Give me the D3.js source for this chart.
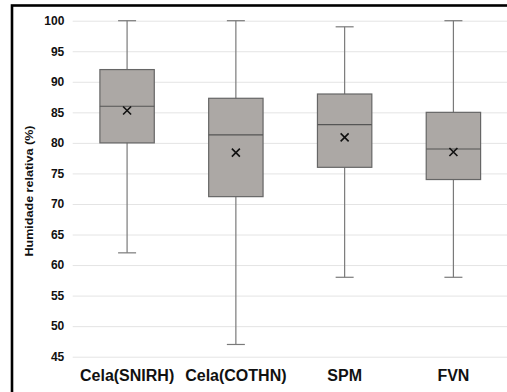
<!DOCTYPE html>
<html>
<head>
<meta charset="utf-8">
<script src="https://cdn.jsdelivr.net/npm/d3@7"></script>
<style>
  body { margin: 0; background: #fff; }
  svg { display: block; font-family: "Liberation Sans", Arial, sans-serif; }
</style>
</head>
<body>
<div id="chart"></div>
<script>
// data
var categories = ["Cela(SNIRH)", "Cela(COTHN)", "SPM", "FVN"];
var minVals    = [62, 47, 58, 58];
var q1Vals     = [80, 71.2, 76, 74];
var medianVals = [86, 81.3, 83, 79];
var q3Vals     = [92, 87.3, 88, 85];
var maxVals    = [100, 100, 99, 100];
var meanVals   = [85.3, 78.4, 80.9, 78.5];
var yTicks     = [45, 50, 55, 60, 65, 70, 75, 80, 85, 90, 95, 100];

var svgWidth = 507, svgHeight = 392;

var margin = { top: 20.7, left: 72.7, right: -0.8, bottom: 35.3 };
var chartWidth = svgWidth - margin.left - margin.right;
var chartHeight = svgHeight - margin.top - margin.bottom;

var svg = d3.select("#chart")
  .append("svg")
  .attr("width", svgWidth)
  .attr("height", svgHeight);

// outer frame (cropped at right/bottom)
svg.append("rect")
  .attr("x", 12).attr("y", 5.5)
  .attr("width", svgWidth + 10).attr("height", svgHeight + 10)
  .attr("fill", "none")
  .attr("stroke", "#000")
  .attr("stroke-width", 2.6);

var chartGroup = svg.append("g")
  .attr("transform", `translate(${margin.left}, ${margin.top})`);

var xScale = d3.scaleBand()
  .domain(categories)
  .range([0, chartWidth])
  .paddingInner(0)
  .paddingOuter(0);

var yScale = d3.scaleLinear()
  .domain([45, 100])
  .range([chartHeight, 0]);

// gridlines
var grid = chartGroup.append("g")
  .call(d3.axisLeft(yScale).tickValues(yTicks).tickSize(-chartWidth - 5).tickFormat(""));
grid.select(".domain").remove();
grid.selectAll("line").attr("stroke", "#e4e4e4").attr("stroke-width", 1);

// y axis labels
var yAxis = chartGroup.append("g")
  .call(d3.axisLeft(yScale).tickValues(yTicks).tickSize(0).tickPadding(8.4));
yAxis.select(".domain").remove();
yAxis.selectAll("text")
  .attr("font-size", "12px")
  .attr("font-weight", "bold")
  .attr("fill", "#111")
  .style("font-family", "'Liberation Sans', Arial, sans-serif");

// x axis labels
var xAxis = chartGroup.append("g")
  .attr("transform", `translate(0, ${chartHeight})`)
  .call(d3.axisBottom(xScale).tickSize(0));
xAxis.select(".domain").remove();
xAxis.selectAll("text")
  .attr("dy", null)
  .attr("y", 24)
  .attr("font-size", "16px")
  .attr("font-weight", "bold")
  .attr("fill", "#111")
  .style("font-family", "'Liberation Sans', Arial, sans-serif");

// y axis title
svg.append("text")
  .attr("transform", "translate(33, 191) rotate(-90)")
  .attr("text-anchor", "middle")
  .attr("font-size", "11.5px")
  .attr("font-weight", "bold")
  .attr("fill", "#111")
  .attr("textLength", 131)
  .attr("lengthAdjust", "spacingAndGlyphs")
  .text("Humidade relativa (%)");

var boxW = xScale.bandwidth() * 0.5;
var capW = 18;

var boxes = chartGroup.selectAll(".box")
  .data(categories)
  .enter()
  .append("g")
  .attr("class", "box")
  .attr("transform", d => `translate(${xScale(d) + xScale.bandwidth() / 2}, 0)`);

// whiskers
boxes.append("line")
  .attr("x1", 0).attr("x2", 0)
  .attr("y1", (d, i) => yScale(maxVals[i]))
  .attr("y2", (d, i) => yScale(minVals[i]))
  .attr("stroke", "#7a7a7a")
  .attr("stroke-width", 1.2);

boxes.append("line")
  .attr("x1", -capW / 2).attr("x2", capW / 2)
  .attr("y1", (d, i) => yScale(maxVals[i]))
  .attr("y2", (d, i) => yScale(maxVals[i]))
  .attr("stroke", "#7a7a7a")
  .attr("stroke-width", 1.2);

boxes.append("line")
  .attr("x1", -capW / 2).attr("x2", capW / 2)
  .attr("y1", (d, i) => yScale(minVals[i]))
  .attr("y2", (d, i) => yScale(minVals[i]))
  .attr("stroke", "#7a7a7a")
  .attr("stroke-width", 1.2);

// boxes
boxes.append("rect")
  .attr("x", -boxW / 2)
  .attr("y", (d, i) => yScale(q3Vals[i]))
  .attr("width", boxW)
  .attr("height", (d, i) => yScale(q1Vals[i]) - yScale(q3Vals[i]))
  .attr("fill", "#aca8a5")
  .attr("stroke", "#666")
  .attr("stroke-width", 1.2);

// median
boxes.append("line")
  .attr("x1", -boxW / 2).attr("x2", boxW / 2)
  .attr("y1", (d, i) => yScale(medianVals[i]))
  .attr("y2", (d, i) => yScale(medianVals[i]))
  .attr("stroke", "#555")
  .attr("stroke-width", 1.2);

// mean marker
var m = 4;
boxes.append("path")
  .attr("d", (d, i) => {
    var y = yScale(meanVals[i]);
    return `M${-m},${y - m}L${m},${y + m}M${-m},${y + m}L${m},${y - m}`;
  })
  .attr("stroke", "#111")
  .attr("stroke-width", 1.6)
  .attr("fill", "none");
</script>
</body>
</html>
